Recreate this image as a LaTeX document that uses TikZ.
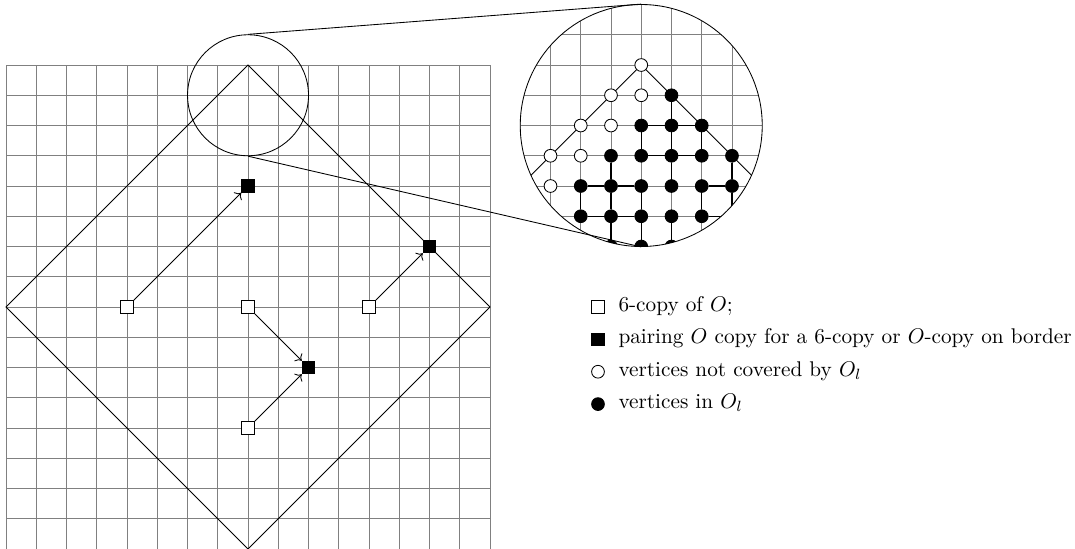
\documentclass[tikz,border=0pt]{standalone}
\usepackage{tikz}
\usetikzlibrary{positioning, arrows.meta}
\tikzset{
	copynode/.style={
			shape=rectangle,
			draw=black,
			fill=white,
			minimum size=6pt,
			inner sep=0pt
		},
	pairnode/.style={
			copynode,
			fill=black
		},
	freenode/.style={
			shape=circle,
			draw=black,
			fill=white,
			minimum size=6pt,
			inner sep=0pt
		},
	usednode/.style={
			freenode,
			fill=black
		},
	tie/.style={
			black,
			semithick
		},
	latticeline/.style={
			gray,
			thin,
			step=1
		},
	legendtext/.style={
			inner sep=0pt,
			anchor=mid west
		}
}

\begin{document}
\begin{tikzpicture}[x=0.5cm, y=0.5cm]
  \useasboundingbox (-8.2,-8) rectangle (27.34,10.15);

  % lattice and the ball
  \draw[latticeline] (-8,-8) grid (8,8);
  \draw (0,8) -- (8,0) -- (0,-8) -- (-8,0) -- cycle;

  \node[circle, draw, minimum size=2cm, inner sep=0pt] (lens) at (0,7) {};

  \node[copynode] (c1) at (-4,0) {};
  \node[copynode] (c2) at (0,0) {};
  \node[copynode] (c3) at (4,0) {};
  \node[copynode] (c4) at (0,-4) {};

  \node[pairnode] (p1) at (0,4) {};
  \node[pairnode] (p2) at (6,2) {};
  \node[pairnode] (p3) at (2,-2) {};

  \draw[->] (c1) -- (p1);
  \draw[->] (c3) -- (p2);
  \draw[->] (c2) -- (p3);
  \draw[->] (c4) -- (p3);

  % magnified top corner
  \begin{scope}
    \clip (13,6) circle (4);
    \draw[latticeline] (9,2) grid (17,10);
    \draw (13,8) -- (8,3);
    \draw (13,8) -- (18,3);

    \foreach \i/\j in {0/0, -1/1, 0/1, -2/2, -1/2, -3/3, -2/3, -3/4}
      \node[freenode] (w\i_\j) at ({13+\i},{8-\j}) {};

    \foreach \i/\j in {1/1, 0/2, 1/2, 2/2, -1/3, 0/3, 1/3, 2/3, 3/3,
                       -2/4, -1/4, 0/4, 1/4, 2/4, 3/4,
                       -2/5, -1/5, 0/5, 1/5, 2/5, 3/5, -1/6, 0/6, 1/6}
      \node[usednode] (b\i_\j) at ({13+\i},{8-\j}) {};

    \foreach \a/\b/\c/\d in {1/1/1/2, 0/2/0/3, 1/2/1/3, 2/2/2/3,
                             -1/3/-1/4, 1/3/1/4, 3/3/3/4,
                             -2/4/-2/5, -1/4/-1/5, 0/4/0/5, 2/4/2/5, 3/4/3/5,
                             -1/5/-1/6, 0/5/0/6, 1/5/1/6,
                             0/2/1/2, 1/2/2/2, 0/3/1/3, 1/3/2/3,
                             -2/4/-1/4, -1/4/0/4, 2/4/3/4,
                             -2/5/-1/5, -1/5/0/5, 2/5/3/5}
      \draw[tie] (b\a_\b) -- (b\c_\d);
  \end{scope}

  \node[circle, draw, minimum size=4cm, inner sep=0pt] (zoomview) at (13,6) {};
  \draw (lens.north) -- (zoomview.north);
  \draw (lens.south) -- (zoomview.south);

  % legend
  \node[copynode] (k1) at (11.57,0) {};
  \node[pairnode] (k2) at (11.57,-1.07) {};
  \node[freenode] (k3) at (11.57,-2.14) {};
  \node[usednode] (k4) at (11.57,-3.21) {};

  \node[legendtext, right=0.22cm of k1, anchor=mid west] (t1) {6-copy of $O$;};
  \node[legendtext, right=0.22cm of k2, anchor=mid west] (t2) {pairing $O$ copy for a 6-copy or $O$-copy on border};
  \node[legendtext, right=0.22cm of k3, anchor=mid west] (t3) {vertices not covered by $O_l$};
  \node[legendtext, right=0.22cm of k4, anchor=mid west] (t4) {vertices in $O_l$};

\end{tikzpicture}
\end{document}
